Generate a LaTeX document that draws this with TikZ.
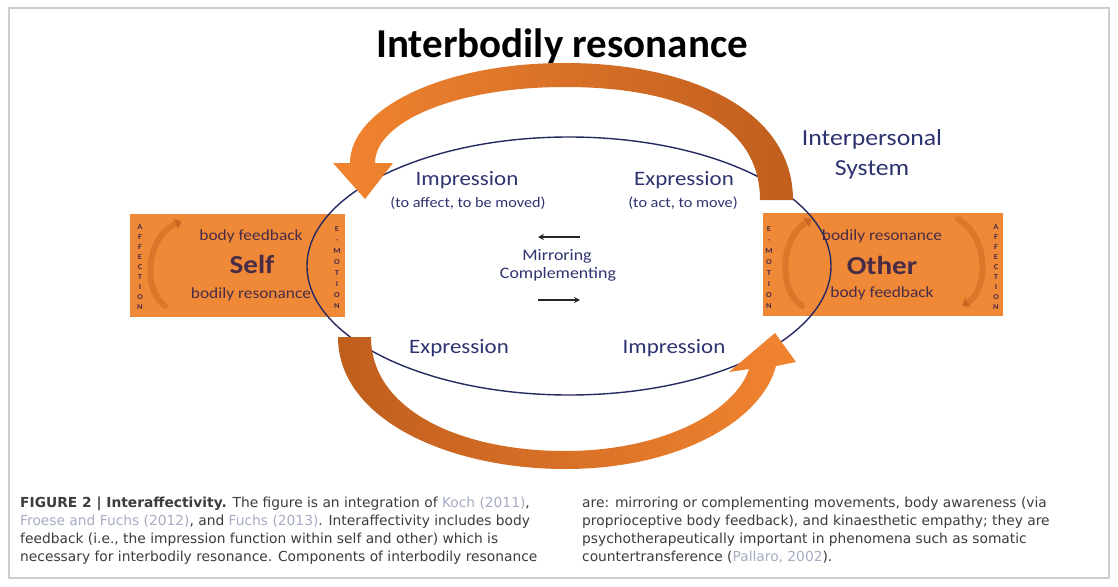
\documentclass[tikz,border=0pt]{standalone}
\usepackage{fontspec}
\setmainfont{Carlito}
\newfontfamily\lab[FakeStretch=1.12]{Carlito}
\newfontfamily\capfont{DejaVu Sans}
\usetikzlibrary{arrows.meta,shapes.geometric}
\definecolor{boxorange}{RGB}{239,137,56}
\definecolor{arrowlight}{RGB}{241,132,48}
\definecolor{arrowdark}{RGB}{192,94,30}
\definecolor{navy}{RGB}{45,52,112}
\definecolor{ellcol}{RGB}{38,42,98}
\definecolor{boxtext}{RGB}{72,44,70}
\definecolor{citecol}{RGB}{165,172,195}
\definecolor{captext}{RGB}{60,60,60}
\definecolor{arcol}{RGB}{200,100,32}
\definecolor{framecol}{RGB}{205,205,205}
\begin{document}
\begin{tikzpicture}[x=1pt,y=-1pt,
  orangebox/.style={fill=boxorange, draw=none, rectangle, inner sep=0pt},
  lbl/.style={text=navy, inner sep=0pt, anchor=base},
  boxlbl/.style={text=boxtext, inner sep=0pt, anchor=base},
  vletters/.style={text=boxtext, inner sep=0pt, align=center, font=\lab\bfseries\fontsize{7.5}{10}\selectfont},
  vletters2/.style={text=boxtext, inner sep=0pt, align=center, font=\lab\bfseries\fontsize{7.5}{11}\selectfont},
  innerarc/.style={draw=arcol, draw opacity=0.5, line width=6pt, line cap=round},
  capline/.style={text=captext, inner sep=0pt, anchor=base west, font=\capfont\fontsize{13.8}{16}\selectfont},
  mirarrow/.style={draw=black!85, line width=1.6pt, -{Stealth[length=6pt,width=6pt]}}
]
\useasboundingbox (0,0) rectangle (1118,586);
\fill[white] (0,0) rectangle (1118,586);
\draw[framecol, line width=1.2pt] (9,8) rectangle (1109,578);

% title
\node[inner sep=0pt, anchor=base, font=\bfseries\fontsize{41}{46}\selectfont] (title) at (562,57) {Interbodily resonance};

% boxes
\node[orangebox, minimum width=215pt, minimum height=103pt] (selfbox) at (237.5,265.5) {};
\node[orangebox, minimum width=240pt, minimum height=103pt] (otherbox) at (883,264.5) {};

% inner circular arrows
\draw[innerarc, -{Triangle[length=7pt,width=12pt]}] (165,306) .. controls (143,290) and (145,238) .. (182,221);
\draw[innerarc, -{Triangle[length=7pt,width=12pt]}] (802,306) .. controls (778,290) and (780,238) .. (812,219);
\draw[innerarc, -{Triangle[length=7pt,width=12pt]}] (958,219) .. controls (990,238) and (988,290) .. (962,306);

% ellipse (interpersonal system)
\node[draw=ellcol, line width=1.4pt, ellipse, minimum width=524pt, minimum height=258pt, inner sep=0pt] (sys) at (569,266) {};

% top big arrow
\shade[left color=arrowlight, right color=arrowdark]
  (793,200) .. controls (793,110) and (690,63) .. (565,63)
  .. controls (440,63) and (350,110) .. (350,163)
  -- (333,163) -- (365,199) -- (393,163) -- (375,163)
  .. controls (375,122) and (455,87) .. (565,87)
  .. controls (680,87) and (760,122) .. (760,200) -- cycle;

% bottom big arrow
\shade[left color=arrowdark, right color=arrowlight]
  (338,337) .. controls (338,420) and (450,469) .. (565,469)
  .. controls (680,469) and (762,420) .. (776,366)
  -- (796,362) -- (775,333) -- (729,372) -- (749,369)
  .. controls (736,410) and (665,451) .. (565,451)
  .. controls (460,451) and (371,410) .. (371,337) -- cycle;

% box texts
\node[boxlbl, font=\lab\fontsize{15.5}{18}\selectfont] (bfL) at (251,240) {body feedback};
\node[boxlbl, font=\lab\bfseries\fontsize{26}{30}\selectfont] (self) at (252,273) {Self};
\node[boxlbl, font=\lab\fontsize{15.5}{18}\selectfont] (brL) at (251,298) {bodily resonance};
\node[boxlbl, font=\lab\fontsize{15.5}{18}\selectfont] (brR) at (882,240) {bodily resonance};
\node[boxlbl, font=\lab\bfseries\fontsize{26}{30}\selectfont] (other) at (882,274) {Other};
\node[boxlbl, font=\lab\fontsize{15.5}{18}\selectfont] (bfR) at (882,297) {body feedback};

% vertical letters
\node[vletters] (affL) at (140,267) {A\\F\\F\\E\\C\\T\\I\\O\\N};
\node[vletters2] (emoL) at (337,268) {E\\-\\M\\O\\T\\I\\O\\N};
\node[vletters2] (emoR) at (769,268) {E\\-\\M\\O\\T\\I\\O\\N};
\node[vletters] (affR) at (996,267) {A\\F\\F\\E\\C\\T\\I\\O\\N};

% labels
\node[lbl, font=\lab\fontsize{20.5}{24}\selectfont] (impA) at (467,185) {Impression};
\node[lbl, font=\lab\fontsize{14.5}{17}\selectfont] (impAs) at (468,207) {(to affect, to be moved)};
\node[lbl, font=\lab\fontsize{20.5}{24}\selectfont] (expA) at (684,185) {Expression};
\node[lbl, font=\lab\fontsize{14.5}{17}\selectfont] (expAs) at (683,207) {(to act, to move)};
\node[lbl, font=\lab\fontsize{16}{19}\selectfont] (mir) at (557,260) {Mirroring};
\node[lbl, font=\lab\fontsize{16}{19}\selectfont] (comp) at (558,278) {Complementing};
\node[lbl, font=\lab\fontsize{20.5}{24}\selectfont] (expB) at (459,353) {Expression};
\node[lbl, font=\lab\fontsize{20.5}{24}\selectfont] (impB) at (674,353) {Impression};
\node[lbl, font=\lab\fontsize{23}{27}\selectfont] (ips1) at (872,145) {Interpersonal};
\node[lbl, font=\lab\fontsize{23}{27}\selectfont] (ips2) at (872,175) {System};

% mirroring arrows
\coordinate (m1a) at (580,237);
\coordinate (m1b) at (538,237);
\coordinate (m2a) at (538,300);
\coordinate (m2b) at (580,300);
\draw[mirarrow] (m1a) -- (m1b);
\draw[mirarrow] (m2a) -- (m2b);

% caption
\node[capline] (c1) at (20,507) {\textbf{FIGURE 2 | Interaffectivity.} The figure is an integration of \textcolor{citecol}{Koch (2011)},};
\node[capline] (c2) at (20,525) {\textcolor{citecol}{Froese and Fuchs (2012)}, and \textcolor{citecol}{Fuchs (2013)}. Interaffectivity includes body};
\node[capline] (c3) at (20,543) {feedback (i.e., the impression function within self and other) which is};
\node[capline] (c4) at (20,561) {necessary for interbodily resonance. Components of interbodily resonance};
\node[capline] (c5) at (582,507) {are: mirroring or complementing movements, body awareness (via};
\node[capline] (c6) at (582,525) {proprioceptive body feedback), and kinaesthetic empathy; they are};
\node[capline] (c7) at (582,543) {psychotherapeutically important in phenomena such as somatic};
\node[capline] (c8) at (582,561) {countertransference (\textcolor{citecol}{Pallaro, 2002}).};
\end{tikzpicture}
\end{document}
